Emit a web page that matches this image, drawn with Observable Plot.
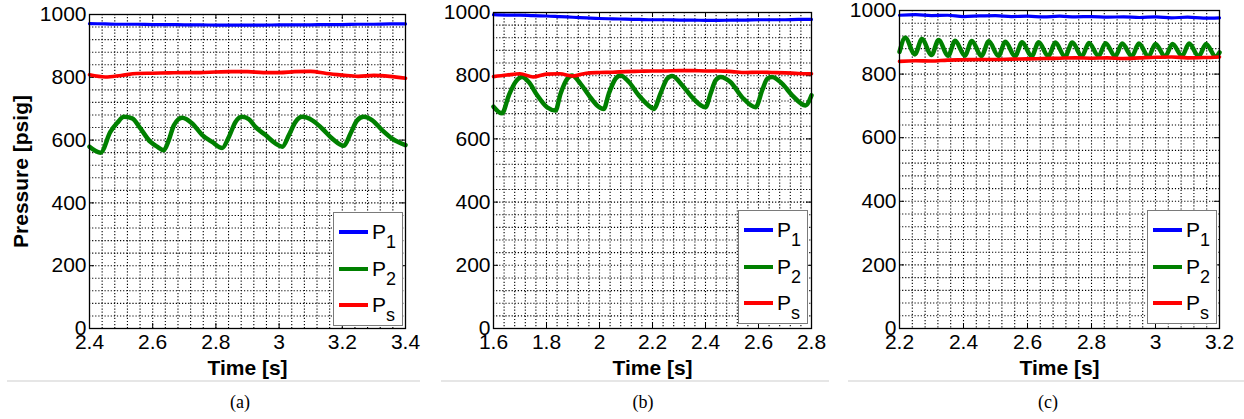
<!DOCTYPE html>
<html><head><meta charset="utf-8">
<script src="https://cdn.jsdelivr.net/npm/d3@7"></script>
<script src="https://cdn.jsdelivr.net/npm/@observablehq/plot@0.6"></script>
<style>
body{margin:0;background:#fff;width:1244px;height:419px;overflow:hidden;position:relative;font-family:"Liberation Sans",Arial,sans-serif;}
.panel{position:absolute;top:0;}
.panel svg{display:block;overflow:visible}
.sep{position:absolute;height:2px;background:#e6e6e6;top:380px}
.cap{position:absolute;top:393px;line-height:1;font-family:"Liberation Serif","Times New Roman",serif;font-size:18px;transform:translateX(-50%);color:#000}
.legend{position:absolute;background:#fff;border:1px solid #7a7a7a;box-sizing:border-box}
.legend svg{display:block}
g[aria-label="x-axis label"] text, g[aria-label="y-axis label"] text{font-weight:bold;font-size:21px}
</style></head><body>
<script>
// ---------- axes / tick labels ----------
const yTicks = [0, 200, 400, 600, 800, 1000];
const xTicksA = [2.4, 2.6, 2.8, 3, 3.2, 3.4];
const xTicksB = [1.6, 1.8, 2, 2.2, 2.4, 2.6, 2.8];
const xTicksC = [2.2, 2.4, 2.6, 2.8, 3, 3.2];
const xLabel = "Time [s]";
const yLabel = "Pressure [psig]";
const captions = ["(a)", "(b)", "(c)"];

// ---------- legend ----------
const seriesBase = ["P", "P", "P"];
const seriesSub = ["1", "2", "s"];
const seriesColors = ["#0000ff", "#008000", "#ff0000"];

// ---------- panel (a) ----------
const tFlatA = [2.40,2.45,2.50,2.55,2.60,2.65,2.70,2.75,2.80,2.85,2.90,2.95,3.00,3.05,3.10,3.15,3.20,3.25,3.30,3.35,3.40];
const p1A = [971,970,969,969,968,968,967,967,966,966,966,966,967,967,967,968,968,969,969,970,970];
const psA = [808,801,806,812,813,814,815,815,817,818,818,815,815,818,819,812,807,803,806,803,797];
const tP2A = [2.400,2.435,2.466,2.488,2.509,2.535,2.561,2.593,2.614,2.635,2.651,2.667,2.693,2.725,2.757,2.788,2.820,2.841,2.862,2.883,2.904,2.925,2.957,2.989,3.010,3.031,3.052,3.073,3.105,3.136,3.168,3.205,3.226,3.247,3.268,3.295,3.326,3.358,3.400];
const p2A = [579,560,626,655,674,669,637,594,579,568,600,647,671,653,616,594,575,610,658,674,667,642,616,589,579,616,658,674,663,637,605,582,621,663,674,663,632,605,584];

// ---------- panel (b) ----------
const tFlatB = [1.60,1.65,1.70,1.75,1.80,1.85,1.90,1.95,2.00,2.05,2.10,2.15,2.20,2.25,2.30,2.35,2.40,2.45,2.50,2.55,2.60,2.65,2.70,2.75,2.80];
const p1B = [993,992,992,990,989,987,985,983,981,980,979,978,977,977,976,976,975,975,976,976,977,977,977,978,978];
const psB = [797,802,806,796,805,806,799,808,810,811,813,814,815,815,816,816,815,815,813,810,811,810,809,807,806];
const tP2B = [1.600,1.632,1.658,1.683,1.708,1.733,1.765,1.802,1.834,1.853,1.878,1.897,1.928,1.960,1.991,2.016,2.035,2.060,2.079,2.111,2.148,2.185,2.205,2.230,2.255,2.274,2.312,2.349,2.400,2.419,2.438,2.457,2.494,2.538,2.589,2.614,2.633,2.651,2.689,2.727,2.777,2.800];
const p2B = [702,681,738,780,796,780,738,700,690,743,790,801,775,738,706,695,743,790,801,780,738,706,695,743,790,799,770,732,700,743,785,796,780,732,700,754,790,796,775,738,706,738];

// ---------- panel (c) ----------
const tFlatC = [2.20,2.25,2.30,2.35,2.40,2.45,2.50,2.55,2.60,2.65,2.70,2.75,2.80,2.85,2.90,2.95,3.00,3.05,3.10,3.15,3.20];
const p1C = [985,987,984,985,981,983,984,981,982,980,982,980,981,979,980,978,980,977,979,976,977];
const psC = [840,842,841,844,845,846,846,847,848,849,850,851,850,851,849,851,853,854,851,852,854];
const tP2C = [2.200,2.218,2.248,2.270,2.300,2.322,2.352,2.374,2.404,2.426,2.456,2.479,2.509,2.531,2.561,2.583,2.613,2.635,2.665,2.687,2.717,2.740,2.770,2.792,2.822,2.844,2.874,2.896,2.926,2.948,2.978,3.000,3.030,3.053,3.083,3.105,3.135,3.158,3.188,3.200];
const p2C = [870,914,862,910,860,907,858,905,858,904,857,903,857,902,856,900,856,900,856,899,855,899,856,898,857,897,856,896,856,896,855,895,855,895,857,896,856,895,855,868];

const panels = [
  {left: 0,   width: 420, mL: 89, mR: 15, mT: 14, xTicks: xTicksA, tFlat: tFlatA, p1: p1A, ps: psA, tP2: tP2A, p2: p2A, yLab: yLabel, legend: [333, 212], sep: [7, 420], cap: 240},
  {left: 420, width: 415, mL: 73, mR: 24, mT: 12, xTicks: xTicksB, tFlat: tFlatB, p1: p1B, ps: psB, tP2: tP2B, p2: p2B, yLab: null, legend: [738, 210], sep: [441, 829], cap: 643},
  {left: 835, width: 409, mL: 64, mR: 25, mT: 10, xTicks: xTicksC, tFlat: tFlatC, p1: p1C, ps: psC, tP2: tP2C, p2: p2C, yLab: null, legend: [1147, 210], sep: [848, 1244], cap: 1048}
];

const H = 380, mB = 52;
panels.forEach((p, idx) => {
  const x0 = p.xTicks[0], x1 = p.xTicks[p.xTicks.length - 1];
  const nX = Math.round((x1 - x0) / 0.04);
  const gridXs = d3.range(1, nX).map(i => +(x0 + i * 0.04).toFixed(4));
  const gridYs = d3.range(1, 25).map(i => i * 40);
  const plotW = p.width - p.mL - p.mR, plotH = H - p.mT - mB;
  const flat = p.tFlat.map((t, i) => ({t, p1: p.p1[i], ps: p.ps[i]}));
  const osc = p.tP2.map((t, i) => ({t, v: p.p2[i]}));
  const dot = {stroke: "#000", strokeOpacity: 1, strokeWidth: 1.1, strokeDasharray: "1.2,1.9"};
  const chart = Plot.plot({
    width: p.width, height: H,
    marginLeft: p.mL, marginRight: p.mR, marginTop: p.mT, marginBottom: mB,
    style: {fontFamily: '"Liberation Sans", Arial, sans-serif', fontSize: "21px", color: "#000", background: "transparent"},
    x: {domain: [x0, x1]},
    y: {domain: [0, 1000]},
    marks: [
      Plot.gridX(gridXs, dot),
      Plot.gridY(gridYs, dot),
      Plot.tickY(yTicks, {y: d => d, insetRight: plotW - 5, stroke: "#000"}),
      Plot.tickY(yTicks, {y: d => d, insetLeft: plotW - 5, stroke: "#000"}),
      Plot.tickX(p.xTicks, {x: d => d, insetTop: plotH - 5, stroke: "#000"}),
      Plot.tickX(p.xTicks, {x: d => d, insetBottom: plotH - 5, stroke: "#000"}),
      Plot.line(flat, {x: "t", y: "p1", stroke: seriesColors[0], strokeWidth: 3.2, curve: "monotone-x"}),
      Plot.line(osc, {x: "t", y: "v", stroke: seriesColors[1], strokeWidth: 4.5, curve: "monotone-x"}),
      Plot.line(flat, {x: "t", y: "ps", stroke: seriesColors[2], strokeWidth: 3.6, curve: "monotone-x"}),
      Plot.frame({stroke: "#000", strokeWidth: 1.3}),
      Plot.axisX(p.xTicks, {tickSize: 0, tickPadding: 6, tickFormat: d => String(d), label: xLabel, labelAnchor: "center", labelOffset: 46, labelArrow: "none"}),
      Plot.axisY(yTicks, {tickSize: 0, tickPadding: 3, tickFormat: d => String(d), label: p.yLab, labelAnchor: "center", labelOffset: 76, labelArrow: "none"})
    ]
  });
  const div = document.createElement("div");
  div.className = "panel";
  div.style.left = p.left + "px";
  div.appendChild(chart);
  document.body.appendChild(div);

  // separator and caption
  const sep = document.createElement("div");
  sep.className = "sep";
  sep.style.left = p.sep[0] + "px";
  sep.style.width = (p.sep[1] - p.sep[0]) + "px";
  document.body.appendChild(sep);
  const cap = document.createElement("div");
  cap.className = "cap";
  cap.style.left = p.cap + "px";
  cap.textContent = captions[idx];
  document.body.appendChild(cap);

  // legend
  const lg = document.createElement("div");
  lg.className = "legend";
  lg.style.left = p.legend[0] + "px";
  lg.style.top = p.legend[1] + "px";
  lg.style.width = "70px";
  lg.style.height = "114px";
  document.body.appendChild(lg);
  const svg = d3.select(lg).append("svg").attr("width", 68).attr("height", 112);
  const rows = [19, 56, 92];
  seriesSub.forEach((s, i) => {
    svg.append("line").attr("x1", 5).attr("x2", 34).attr("y1", rows[i]).attr("y2", rows[i])
      .attr("stroke", seriesColors[i]).attr("stroke-width", 4);
    const t = svg.append("text").attr("x", 38).attr("y", rows[i] + 7)
      .attr("font-family", '"Liberation Sans", Arial, sans-serif').attr("font-size", 21).text(seriesBase[i]);
    t.append("tspan").attr("dy", 9).attr("font-size", 18).text(s);
  });
});
</script>
</body></html>
